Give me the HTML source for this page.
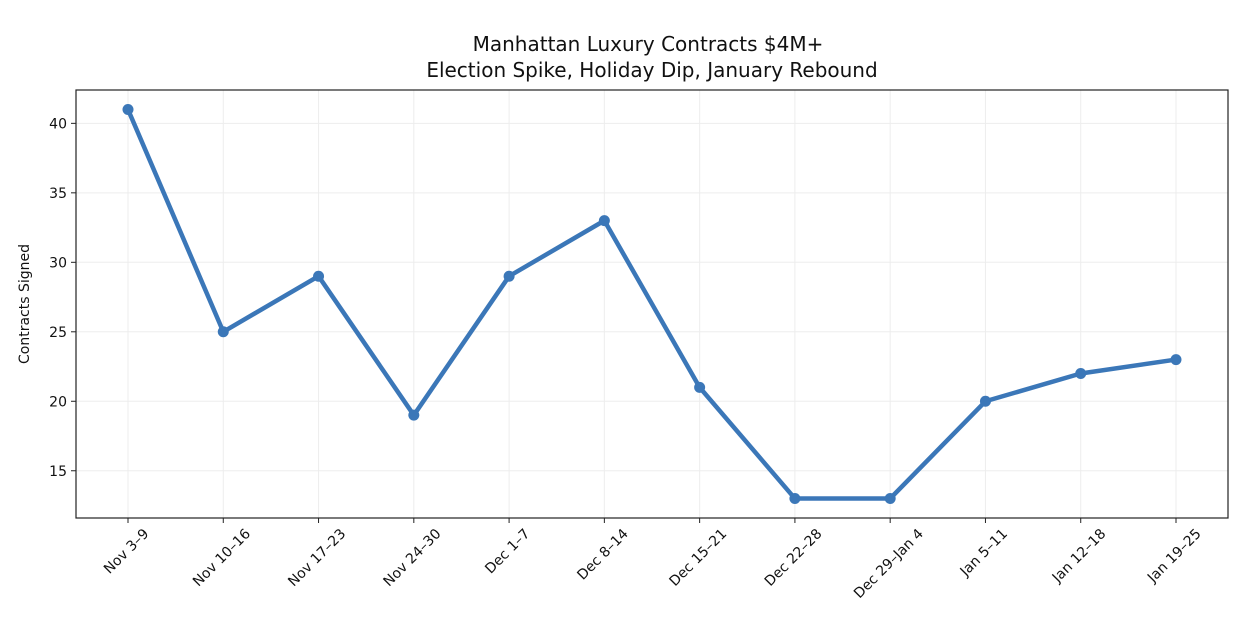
<!DOCTYPE html>
<html><head><meta charset="utf-8"><style>
body{margin:0;background:#fff}
svg{display:block;font-family:"DejaVu Sans","Liberation Sans",sans-serif}
</style></head><body>
<svg id="chart" width="1244" height="642" viewBox="0 0 1244 642">
<text x="648" y="51" text-anchor="middle" font-size="20" fill="#111">Manhattan Luxury Contracts $4M+</text>
<text x="652" y="77" text-anchor="middle" font-size="20" fill="#111">Election Spike, Holiday Dip, January Rebound</text>
<text transform="translate(29,304) rotate(-90)" text-anchor="middle" font-size="14" fill="#111">Contracts Signed</text>
<g id="grid"></g><g id="axes"></g><g id="series"></g>
<rect x="76" y="90" width="1152" height="428" fill="none" stroke="#222" stroke-width="1.2"/>
</svg>
<script>
const categories=["Nov 3–9","Nov 10–16","Nov 17–23","Nov 24–30","Dec 1–7","Dec 8–14","Dec 15–21","Dec 22–28","Dec 29–Jan 4","Jan 5–11","Jan 12–18","Jan 19–25"];
const contracts=[41,25,29,19,29,33,21,13,13,20,22,23];
const yTicks=[15,20,25,30,35,40];
const NS="http://www.w3.org/2000/svg";
const L=76,R=1228,T=90,B=518;
const yMin=11.6,yMax=42.4;
const x0=128,x1=1176;
function xs(i){return x0+(x1-x0)*i/(categories.length-1);}
function ys(v){return B-(v-yMin)/(yMax-yMin)*(B-T);}
function mk(tag,attrs,parent){const e=document.createElementNS(NS,tag);for(const k in attrs)e.setAttribute(k,attrs[k]);parent.appendChild(e);return e;}
const grid=document.getElementById('grid'),axes=document.getElementById('axes'),series=document.getElementById('series');
yTicks.forEach(v=>{const y=ys(v);
 const g=mk('line',{x1:L,x2:R,y1:y,y2:y,stroke:'#ededed','stroke-width':1},grid);
 
 const t=mk('line',{x1:L-5,x2:L,y1:y,y2:y,stroke:'#222'},axes);
 
 const tx=mk('text',{x:L-9,y:y+5,'text-anchor':'end','font-size':14,fill:'#111'},axes);tx.textContent=v;
 
});
categories.forEach((c,i)=>{const x=xs(i);
 const g=mk('line',{x1:x,x2:x,y1:T,y2:B,stroke:'#ededed','stroke-width':1},grid);
 
 const t=mk('line',{x1:x,x2:x,y1:B,y2:B+5,stroke:'#222'},axes);
 
 const tx=mk('text',{'text-anchor':'middle','font-size':14,fill:'#111'},axes);tx.textContent=c;
 
 const w=tx.getComputedTextLength();const h=14;
 const cy=B+8+(w+h)*0.7071/2;
 tx.setAttribute('transform','translate('+(x-2)+','+cy+') rotate(-45)');
 tx.setAttribute('y',5);
});
const pts=contracts.map((v,i)=>xs(i)+','+ys(v)).join(' ');
const line=mk('polyline',{points:pts,fill:'none',stroke:'#3b77b8','stroke-width':4.5,'stroke-linejoin':'round'},series);

contracts.forEach((v,i)=>{const p=mk('circle',{cx:xs(i),cy:ys(v),r:5.5,fill:'#3b77b8'},series);
 });
</script>
</body></html>
